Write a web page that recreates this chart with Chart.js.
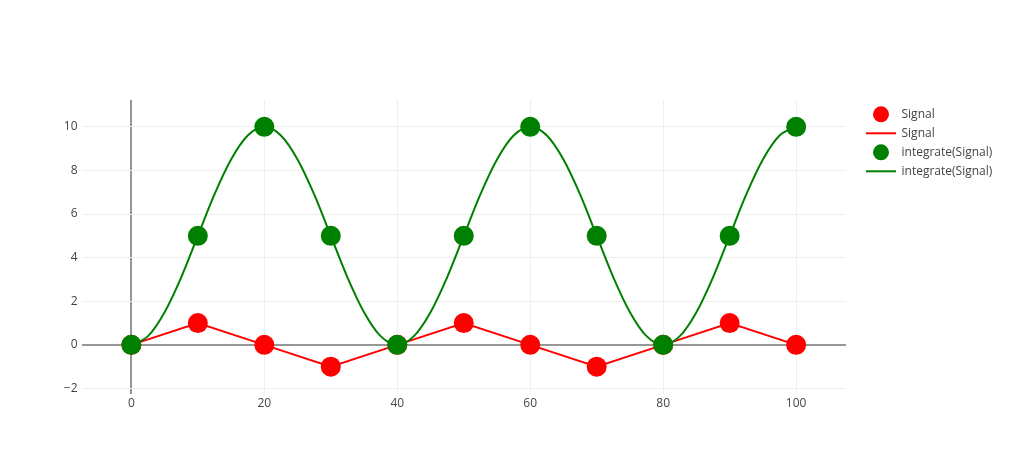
<!DOCTYPE html>
<html>
<head>
<meta charset="utf-8">
<script src="https://cdn.jsdelivr.net/npm/chart.js@4/dist/chart.umd.min.js"></script>
<style>
  html, body { margin: 0; padding: 0; background: #fff; }
  #wrap { width: 1010px; height: 474px; }
</style>
</head>
<body>
<div id="wrap"><canvas id="c" width="1010" height="474"></canvas></div>
<script>
// ---- data ----
const xValues = [0, 10, 20, 30, 40, 50, 60, 70, 80, 90, 100];
const signalValues = [0, 1, 0, -1, 0, 1, 0, -1, 0, 1, 0];
const integrateValues = [0, 5, 10, 5, 0, 5, 10, 5, 0, 5, 10];
// integrate(Signal) line trace, every 2.5 units
const integrateLineX = [0, 2.5, 5, 7.5, 10, 12.5, 15, 17.5, 20, 22.5, 25, 27.5, 30, 32.5, 35, 37.5,
  40, 42.5, 45, 47.5, 50, 52.5, 55, 57.5, 60, 62.5, 65, 67.5, 70, 72.5, 75, 77.5,
  80, 82.5, 85, 87.5, 90, 92.5, 95, 97.5, 100];
const integrateLineY = [0, 0.4, 1.5, 3.1, 5, 6.9, 8.5, 9.6, 10, 9.6, 8.5, 6.9, 5, 3.1, 1.5, 0.4,
  0, 0.4, 1.5, 3.1, 5, 6.9, 8.5, 9.6, 10, 9.6, 8.5, 6.9, 5, 3.1, 1.5, 0.4,
  0, 0.4, 1.5, 3.1, 5, 6.9, 8.5, 9.6, 10];
const seriesLabels = ['Signal', 'Signal', 'integrate(Signal)', 'integrate(Signal)'];
const xTicks = [0, 20, 40, 60, 80, 100];
const yTicks = [-2, 0, 2, 4, 6, 8, 10];

const toPoints = (xs, ys) => xs.map((x, i) => ({ x: x, y: ys[i] }));
const RED = '#ff0000', GREEN = '#008000';
const FONT = { family: "'Open Sans', verdana, arial, sans-serif", size: 12 };

const datasets = [
  { label: seriesLabels[0], data: toPoints(xValues, signalValues), showLine: false,
    pointRadius: 10, pointBackgroundColor: RED, pointBorderWidth: 0, borderColor: RED, order: 4 },
  { label: seriesLabels[1], data: toPoints(xValues, signalValues), showLine: true,
    pointRadius: 0, borderColor: RED, borderWidth: 2, tension: 0, order: 3 },
  { label: seriesLabels[2], data: toPoints(xValues, integrateValues), showLine: false,
    pointRadius: 10, pointBackgroundColor: GREEN, pointBorderWidth: 0, borderColor: GREEN, order: 2 },
  { label: seriesLabels[3], data: toPoints(integrateLineX, integrateLineY), showLine: true,
    pointRadius: 0, borderColor: GREEN, borderWidth: 2, cubicInterpolationMode: 'monotone', order: 1 }
];

const legendPlugin = {
  id: 'plotlyLegend',
  afterDraw(chart) {
    const ctx = chart.ctx;
    ctx.save();
    chart.data.datasets.forEach((ds, i) => {
      const y = 114.3 + 19 * i;
      if (ds.showLine) {
        ctx.strokeStyle = ds.borderColor;
        ctx.lineWidth = 2;
        ctx.beginPath();
        ctx.moveTo(866, y);
        ctx.lineTo(896, y);
        ctx.stroke();
      } else {
        ctx.fillStyle = ds.pointBackgroundColor;
        ctx.beginPath();
        ctx.arc(881, y, 8, 0, Math.PI * 2);
        ctx.fill();
      }
      ctx.fillStyle = '#444';
      ctx.font = "12px 'Open Sans', verdana, arial, sans-serif";
      ctx.textAlign = 'left';
      ctx.textBaseline = 'middle';
      ctx.fillText(ds.label, 901.5, y);
    });
    ctx.restore();
  }
};

const gridColor = (c) => c.tick && c.tick.value === 0 ? '#969696' : '#eeeeee';
const gridWidth = (c) => c.tick && c.tick.value === 0 ? 2 : 1;
const fmt = (v) => String(v).replace('-', '\u2212');

new Chart(document.getElementById('c'), {
  type: 'scatter',
  data: { datasets },
  plugins: [legendPlugin],
  options: {
    responsive: false,
    animation: false,
    events: [],
    layout: { padding: { left: 0, right: 164, top: 100, bottom: 0 } },
    plugins: { legend: { display: false }, tooltip: { enabled: false } },
    scales: {
      x: {
        type: 'linear', min: -7.5, max: 107.5,
        afterBuildTicks: (s) => { s.ticks = xTicks.map(v => ({ value: v })); },
        afterFit: (s) => { s.height = 80.5; },
        border: { display: false },
        grid: { color: gridColor, lineWidth: gridWidth, drawTicks: false },
        ticks: { color: '#444', font: FONT, padding: 3, maxRotation: 0, callback: fmt }
      },
      y: {
        type: 'linear', min: -2.23, max: 11.23,
        afterBuildTicks: (s) => { s.ticks = yTicks.map(v => ({ value: v })); },
        afterFit: (s) => { s.width = 81.5; },
        border: { display: false },
        grid: { color: gridColor, lineWidth: gridWidth, drawTicks: false },
        ticks: { color: '#444', font: FONT, padding: 4, callback: fmt }
      }
    }
  }
});
</script>
</body>
</html>
